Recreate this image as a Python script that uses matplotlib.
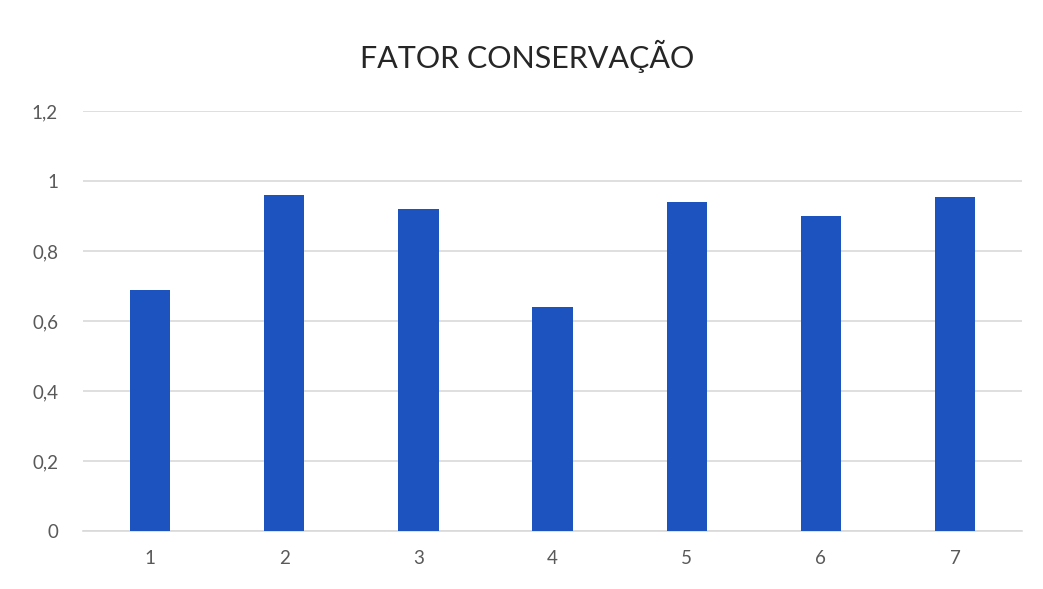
import matplotlib.pyplot as plt
from matplotlib.ticker import FuncFormatter

# dados do grafico
categorias = ["1", "2", "3", "4", "5", "6", "7"]
fator = [0.69, 0.96, 0.92, 0.64, 0.94, 0.90, 0.955]
yticks = [0, 0.2, 0.4, 0.6, 0.8, 1.0, 1.2]

plt.rcParams['font.family'] = ['Lato', 'DejaVu Sans']

fig = plt.figure(figsize=(10.43, 5.89), dpi=100)
ax = fig.add_axes([0.0796, 0.0985, 0.9004, 0.713])

pos = list(range(1, len(categorias) + 1))
ax.bar(pos, fator, width=0.3, color="#1d53be", zorder=3)

ax.set_xlim(0.5, 7.5)
ax.set_ylim(0, 1.2)
ax.set_yticks(yticks)
ax.yaxis.set_major_formatter(FuncFormatter(lambda v, p: ("%g" % round(v, 1)).replace(".", ",")))
ax.set_xticks(pos)
ax.set_xticklabels(categorias)

ax.grid(axis="y", color="#d9d9d9", linewidth=1.2, zorder=0)
for s in ["top", "right", "left"]:
    ax.spines[s].set_visible(False)
ax.spines["bottom"].set_color("#d9d9d9")
ax.spines["bottom"].set_linewidth(1.2)
ax.tick_params(axis="both", length=0, labelsize=13.5, colors="#595959")
ax.tick_params(axis="y", pad=18)
ax.tick_params(axis="x", pad=14)

fig.text(0.505, 0.905, "FATOR CONSERVAÇÃO", ha="center", va="center",
         fontsize=22, color="#262626")

fig.savefig("out.png", dpi=100, facecolor="white")
